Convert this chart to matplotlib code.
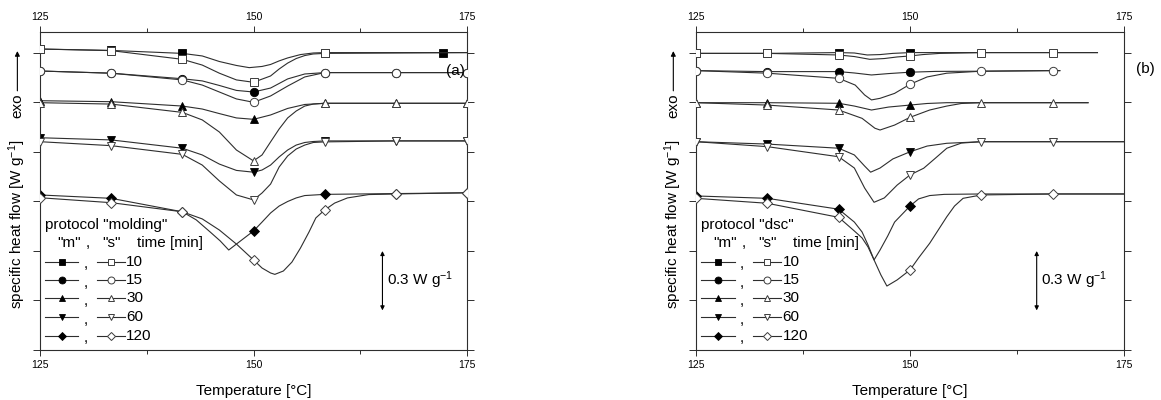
import matplotlib
matplotlib.use("Agg")
import matplotlib.pyplot as plt

# --------------------------------------------------
# Fonts / style
# --------------------------------------------------
plt.rcParams["font.family"] = ["Liberation Sans", "DejaVu Sans"]
plt.rcParams["mathtext.fontset"] = "custom"
plt.rcParams["mathtext.rm"] = "Liberation Sans"
plt.rcParams["mathtext.it"] = "Liberation Sans:italic"

LINE_C = "#2e2e2e"
EDGE_C = "#3c3c3c"

# --------------------------------------------------
# Data: temperature [°C] and offset heat flow [W/g]
# m = filled symbols, s = open symbols
# --------------------------------------------------
TIMES = ["10", "15", "30", "60", "120"]
MARKERS = ["s", "o", "^", "v", "D"]

# ---- protocol "molding" ----
mold_T_10m = [125, 133.33, 141.67, 144, 146, 148, 149.5, 151, 152, 153, 154, 155.5, 157, 158.33, 166.67, 172.2, 175]
mold_q_10m = [1.520, 1.513, 1.498, 1.485, 1.457, 1.437, 1.426, 1.432, 1.442, 1.460, 1.475, 1.492, 1.500, 1.502, 1.502, 1.502, 1.502]
mold_T_10s = [125, 133.33, 141.67, 144, 146, 148, 150, 152, 153, 154, 155, 156, 157, 158.33, 175]
mold_q_10s = [1.520, 1.512, 1.468, 1.439, 1.398, 1.364, 1.352, 1.384, 1.419, 1.449, 1.472, 1.487, 1.495, 1.498, 1.502]

mold_T_15m = [125, 133.33, 141.67, 144, 146, 148, 150, 152, 154, 156, 158.33, 166.67, 175]
mold_q_15m = [1.409, 1.398, 1.370, 1.359, 1.336, 1.311, 1.303, 1.323, 1.369, 1.394, 1.401, 1.401, 1.401]
mold_T_15s = [125, 133.33, 141.67, 144, 146, 148, 150, 152, 154, 156, 158.33, 166.67, 175]
mold_q_15s = [1.409, 1.398, 1.364, 1.338, 1.303, 1.268, 1.251, 1.283, 1.333, 1.379, 1.401, 1.401, 1.401]

mold_T_30m = [125, 133.33, 141.67, 144, 146, 148, 150, 152, 154, 156, 158.33, 166.67, 175]
mold_q_30m = [1.259, 1.254, 1.232, 1.217, 1.194, 1.172, 1.165, 1.187, 1.220, 1.240, 1.246, 1.246, 1.246]
mold_T_30s = [125, 133.33, 141.67, 144, 146, 148, 150, 151, 152, 153, 154, 155, 156, 157, 158.33, 166.67, 175]
mold_q_30s = [1.249, 1.242, 1.200, 1.162, 1.101, 1.010, 0.955, 0.985, 1.051, 1.116, 1.172, 1.207, 1.232, 1.242, 1.246, 1.246, 1.246]

mold_T_60m = [125, 133.33, 141.67, 144, 146, 148, 150, 151, 152, 153, 154, 155, 156, 157, 158.33, 166.67, 175]
mold_q_60m = [1.072, 1.061, 1.019, 0.985, 0.939, 0.907, 0.898, 0.909, 0.934, 0.975, 1.010, 1.035, 1.048, 1.053, 1.056, 1.056, 1.056]
mold_T_60s = [125, 133.33, 141.67, 144, 146, 148, 150, 151, 152, 153, 154, 155, 156, 157, 158.33, 166.67, 175]
mold_q_60s = [1.052, 1.032, 0.988, 0.934, 0.854, 0.783, 0.758, 0.793, 0.838, 0.924, 0.980, 1.015, 1.035, 1.048, 1.051, 1.056, 1.056]

mold_T_120m = [125, 133.33, 141.67, 143.3, 144.9, 146.1, 147.1, 148, 149, 150, 151, 152, 153, 154, 155, 156, 158.33, 166.67, 175]
mold_q_120m = [0.783, 0.766, 0.698, 0.657, 0.597, 0.551, 0.505, 0.535, 0.568, 0.601, 0.646, 0.692, 0.727, 0.750, 0.768, 0.780, 0.786, 0.790, 0.794]
mold_T_120s = [125, 133.33, 141.67, 144, 146, 148, 150, 151, 152, 152.5, 153.5, 154.5, 155.5, 156.5, 157.3, 158.33, 159.5, 161, 163.5, 166.67, 175]
mold_q_120s = [0.769, 0.744, 0.698, 0.662, 0.606, 0.535, 0.455, 0.414, 0.389, 0.382, 0.399, 0.444, 0.515, 0.596, 0.667, 0.707, 0.742, 0.768, 0.785, 0.788, 0.794]

# ---- protocol "dsc" ----
dsc_T_10m = [125, 133.33, 141.67, 143.5, 145, 146.5, 148, 150, 158.33, 166.67, 171.9]
dsc_q_10m = [1.498, 1.498, 1.502, 1.500, 1.490, 1.492, 1.498, 1.502, 1.502, 1.502, 1.502]
dsc_T_10s = [125, 133.33, 141.67, 143.5, 145.3, 147, 148.5, 150, 151.5, 153.5, 158.33, 166.67, 171.9]
dsc_q_10s = [1.498, 1.498, 1.490, 1.482, 1.468, 1.472, 1.480, 1.485, 1.492, 1.498, 1.502, 1.502, 1.502]

dsc_T_15m = [125, 133.33, 141.67, 143.5, 145.5, 147.5, 150, 153, 158.33, 166.67, 167.5]
dsc_q_15m = [1.411, 1.406, 1.406, 1.399, 1.389, 1.396, 1.403, 1.407, 1.408, 1.411, 1.411]
dsc_T_15s = [125, 133.33, 141.67, 143.6, 144.7, 145.5, 146.5, 148.2, 150, 152, 154.3, 158.33, 166.67, 167.5]
dsc_q_15s = [1.411, 1.398, 1.372, 1.338, 1.288, 1.263, 1.271, 1.296, 1.342, 1.379, 1.398, 1.408, 1.411, 1.411]

dsc_T_30m = [125, 133.33, 141.67, 143.5, 145.5, 147.5, 150, 152, 154.3, 158.33, 166.67, 170.8]
dsc_q_30m = [1.249, 1.249, 1.246, 1.232, 1.212, 1.227, 1.237, 1.245, 1.249, 1.249, 1.249, 1.249]
dsc_T_30s = [125, 133.33, 141.67, 144.4, 145.9, 146.5, 148.2, 150, 152.3, 154.3, 156, 158.33, 166.67, 170.8]
dsc_q_30s = [1.249, 1.237, 1.212, 1.170, 1.120, 1.111, 1.136, 1.175, 1.212, 1.232, 1.245, 1.249, 1.249, 1.249]

dsc_T_60m = [125, 133.33, 141.67, 143.5, 144.7, 145.4, 146.5, 148, 150, 152, 154.3, 158.33, 166.67, 175]
dsc_q_60m = [1.052, 1.040, 1.019, 0.985, 0.929, 0.898, 0.919, 0.965, 1.001, 1.030, 1.044, 1.052, 1.052, 1.052]
dsc_T_60s = [125, 133.33, 141.67, 143.5, 144.7, 145.8, 147, 148.5, 150, 151.6, 153, 154.3, 156, 158.33, 166.67, 175]
dsc_q_60s = [1.052, 1.027, 0.976, 0.919, 0.818, 0.746, 0.768, 0.833, 0.884, 0.918, 0.970, 1.019, 1.045, 1.052, 1.052, 1.052]

dsc_T_120m = [125, 133.33, 141.67, 143.5, 144.4, 145.1, 145.8, 146.5, 147.4, 148.2, 150, 151, 152.3, 154, 158.33, 166.67, 175]
dsc_q_120m = [0.778, 0.766, 0.711, 0.646, 0.596, 0.530, 0.455, 0.505, 0.576, 0.646, 0.727, 0.763, 0.780, 0.786, 0.788, 0.788, 0.788]
dsc_T_120s = [125, 133.33, 141.67, 143.5, 144.4, 145.1, 145.8, 146.6, 147.3, 148.5, 150, 151, 152.3, 153.3, 154.3, 155.2, 156.2, 158.33, 166.67, 175]
dsc_q_120s = [0.766, 0.741, 0.670, 0.601, 0.566, 0.520, 0.455, 0.379, 0.323, 0.354, 0.404, 0.465, 0.539, 0.606, 0.673, 0.727, 0.766, 0.783, 0.788, 0.788]

# symbol positions along the curves
MARK_ALL = [125, 133.33, 141.67, 150, 158.33, 166.67, 175]
MARK_MOLD_10M = [125, 133.33, 141.67, 150, 158.33, 172.2]
MARK_MOLD_10S = [125, 133.33, 141.67, 150, 158.33]
MARK_DSC_M = [125, 133.33, 141.67, 150]
MARK_DSC_S = [125, 133.33, 141.67, 150, 158.33, 166.67]

MOLD = [
    (mold_T_10m, mold_q_10m, MARK_MOLD_10M, mold_T_10s, mold_q_10s, MARK_MOLD_10S),
    (mold_T_15m, mold_q_15m, MARK_ALL, mold_T_15s, mold_q_15s, MARK_ALL),
    (mold_T_30m, mold_q_30m, MARK_ALL, mold_T_30s, mold_q_30s, MARK_ALL),
    (mold_T_60m, mold_q_60m, MARK_ALL, mold_T_60s, mold_q_60s, MARK_ALL),
    (mold_T_120m, mold_q_120m, MARK_ALL, mold_T_120s, mold_q_120s, MARK_ALL),
]
DSC = [
    (dsc_T_10m, dsc_q_10m, MARK_DSC_M, dsc_T_10s, dsc_q_10s, MARK_DSC_S),
    (dsc_T_15m, dsc_q_15m, MARK_DSC_M, dsc_T_15s, dsc_q_15s, MARK_DSC_S),
    (dsc_T_30m, dsc_q_30m, MARK_DSC_M, dsc_T_30s, dsc_q_30s, MARK_DSC_S),
    (dsc_T_60m, dsc_q_60m, MARK_DSC_M, dsc_T_60s, dsc_q_60s, MARK_DSC_S),
    (dsc_T_120m, dsc_q_120m, MARK_DSC_M, dsc_T_120s, dsc_q_120s, MARK_DSC_S),
]

SCALE_BAR = 0.3      # W/g
SCALE_Y0 = 0.2


def mark_idx(T, marks):
    return [i for i, t in enumerate(T) if any(abs(t - m) < 0.01 for m in marks)]


def marker_kw(marker, filled, ms=6):
    size = ms - 1.0 if marker == "D" else ms
    if filled:
        return dict(marker=marker, ms=size, mfc="black", mec="black", mew=0.6)
    return dict(marker=marker, ms=size, mfc="white", mec=EDGE_C, mew=0.7)


def draw_panel(ax, curves, protocol, tag, bar_x, tag_xy):
    for (Tm, qm, mk_m, Ts, qs, mk_s), mk in zip(curves, MARKERS):
        ax.plot(Tm, qm, color=LINE_C, lw=0.8, markevery=mark_idx(Tm, mk_m),
                zorder=2, **marker_kw(mk, True))
    for (Tm, qm, mk_m, Ts, qs, mk_s), mk in zip(curves, MARKERS):
        ax.plot(Ts, qs, color=LINE_C, lw=0.8, markevery=mark_idx(Ts, mk_s),
                zorder=3, **marker_kw(mk, False))

    ax.set_xlim(125, 175)
    ax.set_ylim(0, 1.606)
    ax.set_xticks([125, 150, 175])
    ax.set_xticks([137.5, 162.5], minor=True)
    ax.set_yticks([0, 0.25, 0.5, 0.75, 1.0, 1.25, 1.5])
    ax.set_yticklabels([])
    ax.tick_params(axis="x", which="both", top=True, labeltop=True,
                   direction="out", labelsize=7.5, width=0.7, color=LINE_C)
    ax.tick_params(axis="x", which="major", length=4)
    ax.tick_params(axis="x", which="minor", length=3)
    ax.tick_params(axis="y", left=True, right=True, direction="out",
                   length=5, width=0.7, color=LINE_C)
    for sp in ax.spines.values():
        sp.set_linewidth(0.8)
        sp.set_color(LINE_C)

    ax.set_xlabel("Temperature [°C]", fontsize=11, labelpad=10)
    ax.text(-0.053, 0.396, "specific heat flow [W g$^{-1}$]", transform=ax.transAxes,
            rotation=90, ha="center", va="center", fontsize=11)
    ax.text(-0.053, 0.767, "exo", transform=ax.transAxes,
            rotation=90, ha="center", va="center", fontsize=11)
    ax.annotate("", xy=(-0.053, 0.94), xytext=(-0.053, 0.815),
                xycoords="axes fraction", textcoords="axes fraction",
                arrowprops=dict(arrowstyle="-|>", lw=0.8, color="black",
                                mutation_scale=7, shrinkA=0, shrinkB=0))

    # scale bar
    ax.annotate("", xy=(bar_x, SCALE_Y0 + SCALE_BAR), xytext=(bar_x, SCALE_Y0),
                arrowprops=dict(arrowstyle="<|-|>", lw=0.8, color="black",
                                mutation_scale=6, shrinkA=0, shrinkB=0))
    ax.text(bar_x + 0.5, SCALE_Y0 + SCALE_BAR / 2 + 0.005,
            "%.1f W g$^{-1}$" % SCALE_BAR, ha="left", va="center", fontsize=11)

    ax.text(tag_xy[0], tag_xy[1], tag, transform=ax.transAxes,
            ha="center", va="center", fontsize=11)

    # hand-built legend
    ax.text(0.012, 0.393, 'protocol "%s"' % protocol, transform=ax.transAxes,
            ha="left", va="center", fontsize=11)
    hy = 0.336
    ax.text(0.067, hy, '"m"', transform=ax.transAxes, ha="center", va="center", fontsize=11)
    ax.text(0.112, hy, ",", transform=ax.transAxes, ha="center", va="center", fontsize=11)
    ax.text(0.168, hy, '"s"', transform=ax.transAxes, ha="center", va="center", fontsize=11)
    ax.text(0.226, hy, "time [min]", transform=ax.transAxes, ha="left", va="center", fontsize=11)
    rows_y = [0.278, 0.220, 0.162, 0.103, 0.045]
    for y, mk, lab in zip(rows_y, MARKERS, TIMES):
        ax.plot([0.012, 0.051, 0.090], [y, y, y], transform=ax.transAxes,
                clip_on=False, color=LINE_C, lw=0.8, markevery=[1],
                **marker_kw(mk, True, ms=5))
        ax.text(0.108, y - 0.008, ",", transform=ax.transAxes,
                ha="center", va="center", fontsize=11)
        ax.plot([0.133, 0.166, 0.199], [y, y, y], transform=ax.transAxes,
                clip_on=False, color=LINE_C, lw=0.8, markevery=[1],
                **marker_kw(mk, False, ms=5))
        ax.text(0.202, y, lab, transform=ax.transAxes,
                ha="left", va="center", fontsize=11)


fig = plt.figure(figsize=(11.61, 4), dpi=100)
ax_a = fig.add_axes([40 / 1161, 50 / 400, 427 / 1161, 318 / 400])
ax_b = fig.add_axes([696 / 1161, 50 / 400, 428 / 1161, 318 / 400])

draw_panel(ax_a, MOLD, "molding", "(a)", 165.1, (0.972, 0.877))
draw_panel(ax_b, DSC, "dsc", "(b)", 164.8, (1.049, 0.885))

fig.savefig("out.png", dpi=100)
